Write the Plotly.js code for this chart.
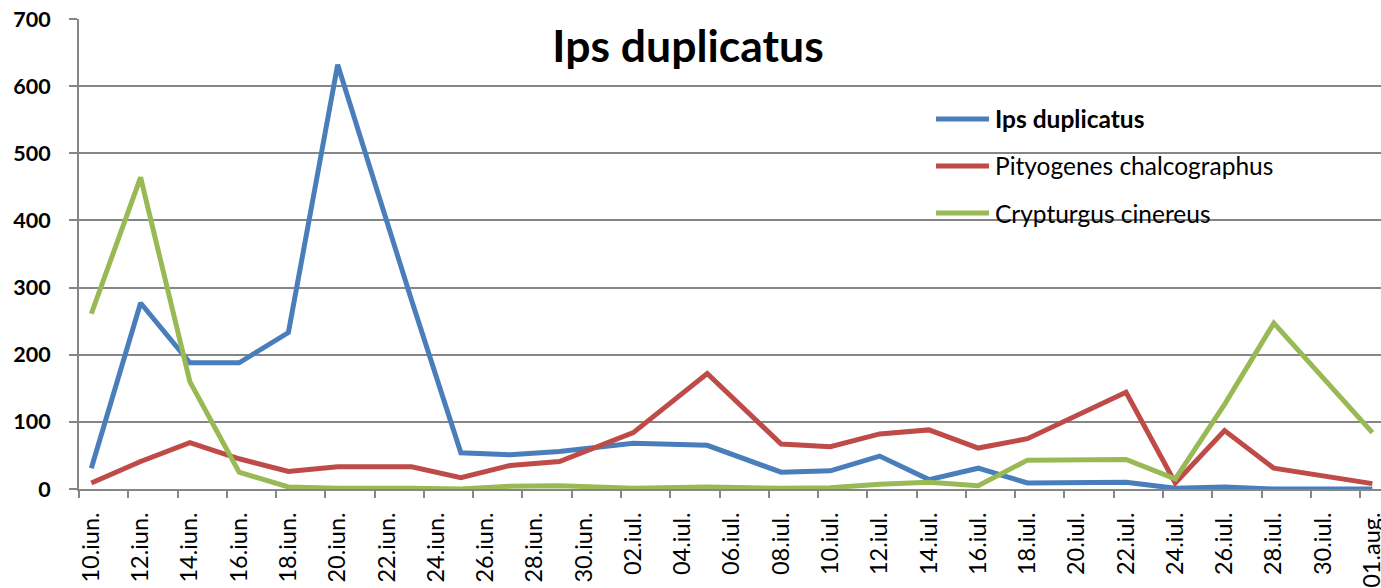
<!DOCTYPE html>
<html>
<head>
<meta charset="utf-8">
<script src="https://cdn.plot.ly/plotly-3.0.1.min.js"></script>
<style>html,body{margin:0;padding:0;background:#fff;}#chart{width:1381px;height:588px;}</style>
</head>
<body>
<div id="chart"></div>
<script>
// ---- data ----
var sampleDates = ["2014-06-10","2014-06-12","2014-06-14","2014-06-16","2014-06-18","2014-06-20","2014-06-23","2014-06-25","2014-06-27","2014-06-29","2014-07-02","2014-07-05","2014-07-08","2014-07-10","2014-07-12","2014-07-14","2014-07-16","2014-07-18","2014-07-22","2014-07-24","2014-07-26","2014-07-28","2014-08-01"];
var ipsDuplicatus = [31,277,188,188,233,632,281,54,51,56,68,65,25,27,49,14,31,9,10,1,3,0,0];
var pityogenesChalcographus = [9,41,69,45,26,33,33,17,35,41,84,172,67,63,82,88,61,75,144,9,87,31,8];
var crypturgusCinereus = [261,464,160,25,3,1,1,0,4,5,1,3,1,2,7,10,5,43,44,15,126,247,84];
var seriesNames = ["Ips duplicatus","Pityogenes chalcographus","Crypturgus cinereus"];
var seriesColors = ["#4A7EBB","#BE4B48","#98B954"];
var tickDates = ["2014-06-10","2014-06-12","2014-06-14","2014-06-16","2014-06-18","2014-06-20","2014-06-22","2014-06-24","2014-06-26","2014-06-28","2014-06-30","2014-07-02","2014-07-04","2014-07-06","2014-07-08","2014-07-10","2014-07-12","2014-07-14","2014-07-16","2014-07-18","2014-07-20","2014-07-22","2014-07-24","2014-07-26","2014-07-28","2014-07-30","2014-08-01"];
var tickLabels = ["10.iun.","12.iun.","14.iun.","16.iun.","18.iun.","20.iun.","22.iun.","24.iun.","26.iun.","28.iun.","30.iun.","02.iul.","04.iul.","06.iul.","08.iul.","10.iul.","12.iul.","14.iul.","16.iul.","18.iul.","20.iul.","22.iul.","24.iul.","26.iul.","28.iul.","30.iul.","01.aug."];
var chartTitle = "Ips duplicatus";

// ---- chart ----
var values = [ipsDuplicatus, pityogenesChalcographus, crypturgusCinereus];
var traces = values.map(function(v, i){
  return {type:"scatter", mode:"lines", name:seriesNames[i], x:sampleDates, y:v,
          line:{color:seriesColors[i], width:5}, showlegend:false, hoverinfo:"x+y+name"};
});
// tick marks sit on the day-slot boundaries (half a day before each labelled day)
var boundaryTicks = tickDates.map(function(d){
  var t = new Date(d + "T00:00:00Z").getTime() - 12*3600*1000;
  return new Date(t).toISOString().replace("T"," ").slice(0,19);
});

var W = 1381, H = 588, L = 79, R = 0, T = 19, B = 99;
var pw = W - L - R, ph = H - T - B;
function px(x){ return (x - L)/pw; }
function py(y){ return (H - B - y)/ph; }

var legendY = [119, 166, 213];
var shapes = [], annotations = [];
seriesNames.forEach(function(n, i){
  shapes.push({type:"line", xref:"paper", yref:"paper", x0:px(936), x1:px(989), y0:py(legendY[i]), y1:py(legendY[i]),
               line:{color:seriesColors[i], width:5}});
  annotations.push({xref:"paper", yref:"paper", x:px(993), y:py(legendY[i]), xanchor:"left", yanchor:"middle",
                    text: i===0 ? "<b>"+n+"</b>" : n, showarrow:false,
                    font:{family:"Lato", size:24.5, color:"#000"}});
});

var layout = {
  width:W, height:H, margin:{l:L, r:R, t:T, b:B, pad:0},
  paper_bgcolor:"#fff", plot_bgcolor:"#fff", showlegend:false,
  title:{text:"<b>"+chartTitle+"</b>", font:{family:"Lato", size:44.5, color:"#000"},
         xref:"paper", x:px(688), xanchor:"center", yref:"container", y:1-46/H, yanchor:"middle"},
  xaxis:{type:"date", range:["2014-06-09 12:00","2014-08-01 08:24"], tickvals:tickDates, ticktext:tickLabels,
         tickangle:-90, ticks:"", showgrid:false, zeroline:false, showline:true, linecolor:"#868686", linewidth:2,
         tickfont:{family:"Lato", size:23.5, color:"#000"}, ticklabelstandoff:12, ticklabeloverflow:"allow",
         minor:{tickvals:boundaryTicks, ticks:"outside", ticklen:7, tickcolor:"#868686", tickwidth:2, showgrid:false}},
  yaxis:{range:[0,700], tickvals:[0,100,200,300,400,500,600,700], ticks:"outside", ticklen:8, tickcolor:"#868686", tickwidth:2,
         showgrid:true, gridcolor:"#868686", gridwidth:2, zeroline:false, showline:true, linecolor:"#868686", linewidth:2,
         tickfont:{family:"Lato", size:21.5, color:"#000", weight:"bold"}, ticklabelstandoff:14},
  shapes:shapes, annotations:annotations
};
Plotly.newPlot("chart", traces, layout, {displayModeBar:false, staticPlot:true});
</script>
</body>
</html>
